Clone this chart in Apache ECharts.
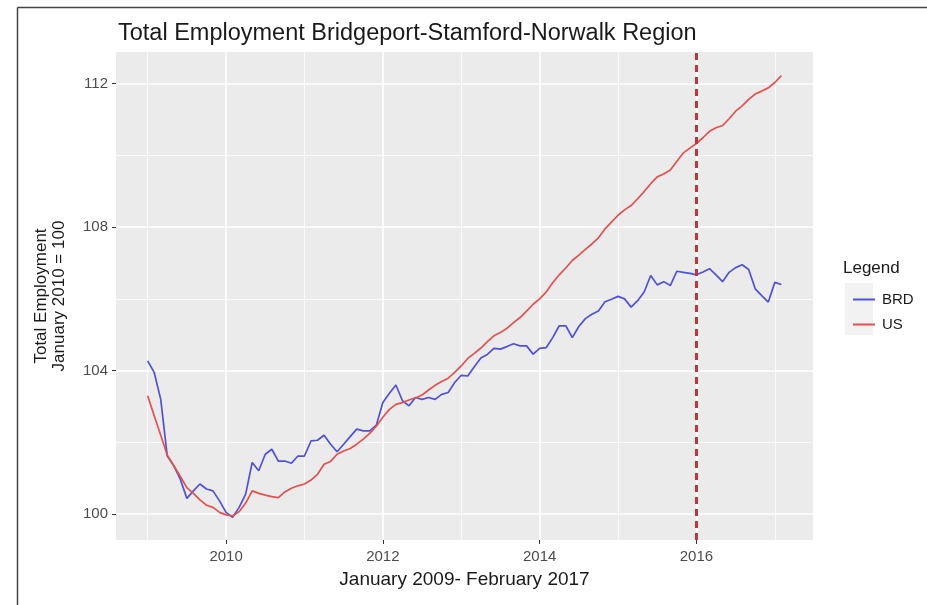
<!DOCTYPE html>
<html>
<head>
<meta charset="utf-8">
<script src="https://cdn.jsdelivr.net/npm/echarts@6/dist/echarts.min.js"></script>
<style>
html,body{margin:0;padding:0;background:#fff;}
#chart{width:927px;height:605px;}
</style>
</head>
<body>
<div id="chart"></div>
<script>
// ---- data ----
const startYear = 2009; // January 2009, monthly through February 2017
const seriesNames = ['BRD', 'US'];
const brdValues = [
  104.27, 103.95, 103.20, 101.62, 101.35, 100.97, 100.44, 100.65, 100.84, 100.70, 100.65, 100.37,
  100.05, 99.91, 100.19, 100.56, 101.44, 101.21, 101.67, 101.81, 101.48, 101.48, 101.42, 101.62,
  101.62, 102.04, 102.06, 102.20, 101.95, 101.74, 101.95, 102.16, 102.37, 102.32, 102.32, 102.48,
  103.11, 103.37, 103.60, 103.16, 103.02, 103.25, 103.20, 103.25, 103.20, 103.34, 103.39, 103.67,
  103.87, 103.85, 104.11, 104.35, 104.45, 104.62, 104.60, 104.67, 104.75, 104.69, 104.69, 104.46,
  104.62, 104.64, 104.92, 105.25, 105.25, 104.92, 105.23, 105.45, 105.57, 105.66, 105.92, 105.99,
  106.07, 106.00, 105.77, 105.95, 106.19, 106.65, 106.39, 106.48, 106.37, 106.77, 106.74, 106.71,
  106.67, 106.75, 106.84, 106.67, 106.48, 106.74, 106.87, 106.95, 106.82, 106.28, 106.09, 105.91,
  106.46, 106.40
];
const usValues = [
  103.30, 102.74, 102.20, 101.64, 101.35, 101.05, 100.74, 100.58, 100.40, 100.25, 100.19, 100.05,
  99.98, 99.95, 100.07, 100.31, 100.65, 100.58, 100.53, 100.49, 100.46, 100.62, 100.72, 100.79,
  100.84, 100.95, 101.11, 101.39, 101.47, 101.67, 101.76, 101.83, 101.95, 102.09, 102.25, 102.45,
  102.70, 102.92, 103.06, 103.11, 103.18, 103.24, 103.32, 103.46, 103.59, 103.70, 103.79, 103.95,
  104.13, 104.34, 104.48, 104.63, 104.81, 104.97, 105.06, 105.18, 105.34, 105.48, 105.66, 105.85,
  106.00, 106.19, 106.45, 106.67, 106.86, 107.07, 107.22, 107.38, 107.53, 107.70, 107.95, 108.14,
  108.33, 108.48, 108.60, 108.79, 108.99, 109.21, 109.40, 109.48, 109.59, 109.83, 110.07, 110.20,
  110.33, 110.49, 110.67, 110.77, 110.83, 111.02, 111.23, 111.38, 111.56, 111.71, 111.79, 111.88,
  112.03, 112.22
];
const xTickLabels = [2010, 2012, 2014, 2016];
const xMinorBreaks = [2009, 2011, 2013, 2015, 2017];
const yTickLabels = [100, 104, 108, 112];
const yMinorBreaks = [102, 106, 110];
const markerYear = 2016;

// ---- build ----
function toPairs(vals) {
  return vals.map((v, i) => [startYear + i / 12, v]);
}
const grey = '#EBEBEB';
const chart = echarts.init(document.getElementById('chart'), null, {renderer: 'canvas'});

const gridLines = [];
xTickLabels.forEach(v => gridLines.push({xAxis: v, lineStyle: {width: 1.6}}));
xMinorBreaks.forEach(v => gridLines.push({xAxis: v, lineStyle: {width: 0.8}}));
yTickLabels.forEach(v => gridLines.push({yAxis: v, lineStyle: {width: 1.6}}));
yMinorBreaks.forEach(v => gridLines.push({yAxis: v, lineStyle: {width: 0.8}}));

const fontFamily = '"Liberation Sans", Arial, sans-serif';

chart.setOption({
  animation: false,
  backgroundColor: '#ffffff',
  title: {
    text: 'Total Employment Bridgeport-Stamford-Norwalk Region',
    left: 113, top: 17,
    textStyle: {fontSize: 23.5, fontWeight: 'normal', color: '#1a1a1a', fontFamily: fontFamily}
  },
  grid: {
    left: 116, top: 52, width: 697, height: 488,
    show: true, backgroundColor: grey, borderWidth: 0
  },
  legend: {
    data: seriesNames,
    orient: 'vertical',
    left: 847, top: 287,
    itemWidth: 22, itemHeight: 17, itemGap: 10,
    itemStyle: {opacity: 0},
    textStyle: {fontSize: 15, color: '#1a1a1a', fontFamily: fontFamily, padding: [0, 0, 0, 2]}
  },
  xAxis: {
    type: 'value',
    min: 2008.596, max: 2017.487,
    name: 'January 2009- February 2017',
    nameLocation: 'middle', nameGap: 30,
    nameTextStyle: {fontSize: 19, color: '#1a1a1a', fontFamily: fontFamily},
    axisLine: {show: false},
    splitLine: {show: false},
    axisTick: {show: true, customValues: xTickLabels, length: 4, lineStyle: {color: '#333333', width: 1}},
    axisLabel: {customValues: xTickLabels, formatter: v => String(v), fontSize: 15, color: '#4D4D4D', margin: 9, fontFamily: fontFamily}
  },
  yAxis: {
    type: 'value',
    min: 99.28, max: 112.88,
    name: 'Total Employment\nJanuary 2010 = 100',
    nameLocation: 'middle', nameGap: 48, nameRotate: 90,
    nameTextStyle: {fontSize: 17, color: '#1a1a1a', fontFamily: fontFamily, lineHeight: 18},
    axisLine: {show: false},
    splitLine: {show: false},
    axisTick: {show: true, customValues: yTickLabels, length: 4, lineStyle: {color: '#333333', width: 1}},
    axisLabel: {customValues: yTickLabels, formatter: v => String(v), fontSize: 15, color: '#4D4D4D', margin: 8, fontFamily: fontFamily}
  },
  graphic: [
    {type: 'line', shape: {x1: 17.5, y1: 7.5, x2: 927, y2: 7.5}, style: {stroke: '#444', lineWidth: 1.5}},
    {type: 'line', shape: {x1: 17.5, y1: 7.5, x2: 17.5, y2: 605}, style: {stroke: '#444', lineWidth: 1.5}},
    {type: 'text', left: 843, top: 260, style: {text: 'Legend', fill: '#1a1a1a', font: '17px "Liberation Sans", Arial, sans-serif'}},
    {type: 'rect', shape: {x: 845, y: 283, width: 28, height: 52}, style: {fill: '#F2F2F2'}, z: -1}
  ],
  series: [
    {
      name: '__grid', type: 'line', data: [], silent: true,
      markLine: {
        silent: true, symbol: 'none', z: 1, animation: false,
        label: {show: false},
        lineStyle: {color: '#ffffff', type: 'solid'},
        emphasis: {disabled: true},
        data: gridLines
      }
    },
    {
      name: 'BRD', type: 'line', data: toPairs(brdValues), showSymbol: false, symbol: 'none',
      lineStyle: {color: '#5050DC', width: 1.7}, itemStyle: {color: '#5050DC'}, z: 3
    },
    {
      name: 'US', type: 'line', data: toPairs(usValues), showSymbol: false, symbol: 'none',
      lineStyle: {color: '#E5504C', width: 1.7}, itemStyle: {color: '#E5504C'}, z: 3,
      markLine: {
        silent: true, symbol: 'none', z: 6, animation: false,
        label: {show: false},
        lineStyle: {color: '#C0363A', type: [7, 5], width: 3},
        data: [{xAxis: markerYear}]
      }
    }
  ]
});
</script>
</body>
</html>
